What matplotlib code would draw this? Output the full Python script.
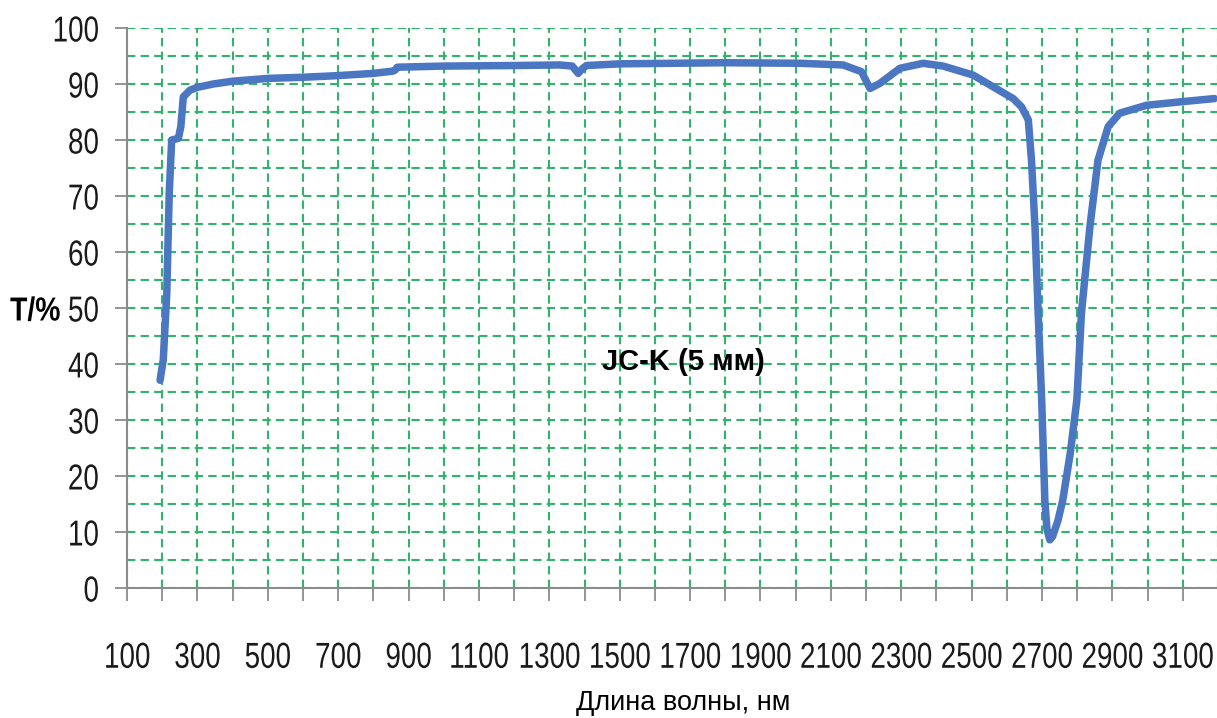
import matplotlib
matplotlib.use('Agg')
import matplotlib.pyplot as plt
from matplotlib.ticker import MultipleLocator
from matplotlib.patheffects import AbstractPathEffect
from matplotlib.transforms import Affine2D

# спектр пропускания
wl = [194, 203, 213, 220, 227, 246, 253, 260, 279, 300, 345, 400, 500, 600,
      700, 800, 856, 862, 868, 1000, 1200, 1330, 1365, 1382, 1395, 1406, 1500,
      1800, 2012, 2135, 2187, 2211, 2239, 2296, 2362, 2419, 2504, 2561, 2618,
      2642, 2661, 2670, 2680, 2689, 2699, 2708, 2714, 2722, 2730, 2745, 2759,
      2780, 2799, 2812, 2836, 2859, 2888, 2921, 2997, 3091, 3190]
trans = [37.1, 40.7, 52.6, 70.5, 80.0, 80.3, 82.4, 87.7, 88.9, 89.4, 90.0,
         90.5, 91.0, 91.2, 91.5, 91.9, 92.3, 92.5, 93.0, 93.2, 93.3, 93.4,
         93.2, 91.9, 92.8, 93.3, 93.6, 93.8, 93.7, 93.4, 92.2, 89.2, 90.1,
         92.8, 93.7, 93.2, 91.6, 89.5, 87.4, 85.9, 83.6, 76.4, 64.5, 49.1,
         33.6, 15.7, 10.5, 8.6, 9.2, 12.0, 15.7, 24.0, 33.6, 49.1, 64.5, 76.4,
         82.4, 84.8, 86.2, 86.8, 87.4]

x_ticks = list(range(100, 3201, 100))
x_labels = [str(t) if (t - 100) % 200 == 0 else '' for t in x_ticks]
y_ticks = list(range(0, 101, 10))

font = ['Liberation Sans', 'DejaVu Sans']


# узкий шрифт: сжимаем текст по горизонтали
class Squeeze(AbstractPathEffect):
    def __init__(self, sx, anchor='center'):
        super().__init__()
        self.sx = sx
        self.anchor = anchor

    def draw_path(self, renderer, gc, tpath, affine, rgbFace=None):
        bb = tpath.get_extents()
        if self.anchor == 'right':
            c = bb.x1
        elif self.anchor == 'left':
            c = bb.x0
        else:
            c = (bb.x0 + bb.x1) / 2
        t = Affine2D().translate(-c, 0).scale(self.sx, 1).translate(c, 0)
        renderer.draw_path(gc, tpath, t + affine, rgbFace)


fig = plt.figure(figsize=(12.17, 7.18), dpi=100)
ax = fig.add_axes([127 / 1217, 130 / 718, 1091 / 1217, 560 / 718])

ax.plot(wl, trans, color='#4a76c2', lw=5.4, solid_capstyle='round',
        solid_joinstyle='round', zorder=3)

ax.set_xlim(100, 3200)
ax.set_ylim(0, 100)

ax.set_xticks(x_ticks)
ax.set_xticklabels(x_labels)
ax.set_yticks(y_ticks)
ax.yaxis.set_minor_locator(MultipleLocator(5))

grid_kw = dict(color='#30b46c', lw=1.5, linestyle=(0, (4, 2.5)))
ax.grid(True, which='both', axis='y', **grid_kw)
ax.grid(True, which='major', axis='x', **grid_kw)
ax.set_axisbelow(True)

for s in ['top', 'right']:
    ax.spines[s].set_visible(False)
for s in ['left', 'bottom']:
    ax.spines[s].set_color('#8c8c8c')
    ax.spines[s].set_linewidth(1.5)

ax.tick_params(axis='x', which='major', length=9, width=1.3, color='#8c8c8c',
               pad=29, labelsize=26)
ax.tick_params(axis='y', which='major', length=9, width=1.3, color='#8c8c8c',
               pad=11, labelsize=26)
ax.tick_params(axis='y', which='minor', length=0)

for lab in ax.get_xticklabels():
    lab.set_family(font)
    lab.set_color('#1a1a1a')
    lab.set_path_effects([Squeeze(0.77, 'center')])
for lab in ax.get_yticklabels():
    lab.set_family(font)
    lab.set_color('#1a1a1a')
    lab.set_path_effects([Squeeze(0.77, 'right')])

fig.text(10 / 1217, 1 - 312 / 718, 'T/%', family=font, fontweight='bold',
         fontsize=24, ha='left', va='center',
         path_effects=[Squeeze(0.85, 'left')])
fig.text(683 / 1217, 1 - 703 / 718, 'Длина волны, нм', family=font,
         fontsize=19.5, ha='center', va='center')

ax.text(1680, 40.4, 'JC-K (5 мм)', family=font, fontweight='bold',
        fontsize=21, ha='center', va='center', zorder=4)

fig.savefig('out.png', dpi=100)
